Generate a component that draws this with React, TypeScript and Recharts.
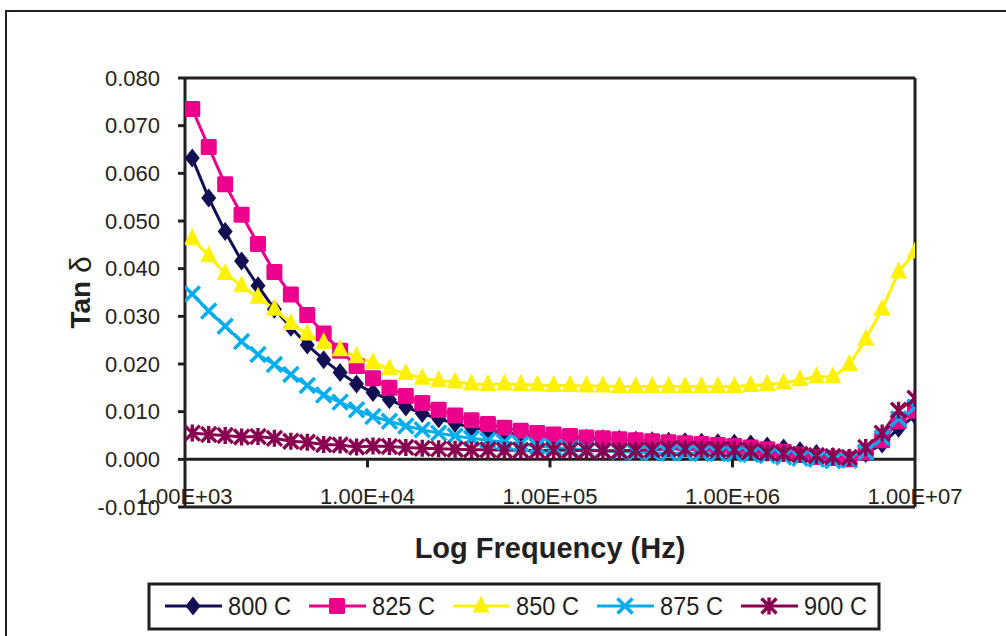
import React from "react";
import { LineChart, Line, XAxis, YAxis, ReferenceLine } from "recharts";

const FONT = "'Liberation Sans', Arial, sans-serif";
const INK = "#231f20";

// measurement frequencies (Hz)
const freqs = [
  1096, 1349, 1660, 2042, 2512, 3090, 3802, 4677, 5754, 7079, 8710,
  10715, 13183, 16218, 19953, 24547, 30200, 37154, 45709, 56234, 69183, 85114,
  104713, 128825, 158489, 194984, 239883, 295121, 363078, 446684, 549541, 676083, 831764,
  1023293, 1258925, 1548817, 1905461, 2344229, 2884032, 3548134, 4365158, 5370318, 6606934, 8128305,
  10000000,
];

const tan800 = [
  0.0632, 0.0548, 0.0478, 0.0416, 0.0364, 0.0315, 0.0277, 0.024, 0.0209, 0.0182, 0.0158,
  0.014, 0.0125, 0.011, 0.0096, 0.0085, 0.0075, 0.0067, 0.0061, 0.0056, 0.0052, 0.005,
  0.0048, 0.0046, 0.0044, 0.0043, 0.0042, 0.004, 0.0039, 0.0038, 0.0037, 0.0036, 0.0035,
  0.0034, 0.0032, 0.0028, 0.0024, 0.0018, 0.0012, 0.0006, 0.0003, 0.0012, 0.0032, 0.0065,
  0.0092,
];
const tan825 = [
  0.0735, 0.0655, 0.0577, 0.0513, 0.0452, 0.0393, 0.0346, 0.0303, 0.0264, 0.0228, 0.0196,
  0.017, 0.015, 0.0133, 0.0118, 0.0104, 0.0092, 0.0082, 0.0074, 0.0066, 0.006, 0.0055,
  0.0052, 0.0049, 0.0046, 0.0044, 0.0042, 0.004, 0.0038, 0.0036, 0.0034, 0.0032, 0.003,
  0.0028, 0.0025, 0.0021, 0.0016, 0.001, 0.0005, 0.0003, 0.0, 0.0015, 0.004, 0.008,
  0.0102,
];
const tan850 = [
  0.0463, 0.0427, 0.039, 0.0364, 0.034, 0.0315, 0.0285, 0.0263, 0.0245, 0.023, 0.0215,
  0.0203, 0.019, 0.018, 0.017, 0.0165, 0.0162, 0.0158, 0.0157, 0.0158, 0.0157, 0.0156,
  0.0155, 0.0155, 0.0154, 0.0154, 0.0153, 0.0153, 0.0153, 0.0153, 0.0153, 0.0153, 0.0153,
  0.0153, 0.0155, 0.0157, 0.016, 0.0167, 0.0173, 0.0173, 0.0199, 0.0252, 0.0315, 0.0393,
  0.0435,
];
const tan875 = [
  0.0347, 0.0311, 0.0279, 0.0247, 0.022, 0.0199, 0.0178, 0.0155, 0.0135, 0.012, 0.0104,
  0.009, 0.008, 0.007, 0.0062, 0.0055, 0.0049, 0.0044, 0.004, 0.0036, 0.0032, 0.0028,
  0.0025, 0.0022, 0.002, 0.0018, 0.0016, 0.0015, 0.0014, 0.0013, 0.0013, 0.0012, 0.0012,
  0.0011, 0.001, 0.0008, 0.0005, 0.0002, 0.0, -0.0003, -0.0002, 0.0015, 0.0045, 0.0085,
  0.011,
];
const tan900 = [
  0.0055, 0.0052, 0.005, 0.0047, 0.0048, 0.0044, 0.0038, 0.0036, 0.0031, 0.003, 0.0026,
  0.0028, 0.0027, 0.0025, 0.0023, 0.0022, 0.0021, 0.002, 0.002, 0.0019, 0.0019, 0.0018,
  0.0019, 0.0019, 0.0018, 0.0018, 0.0018, 0.0019, 0.002, 0.0022, 0.0022, 0.0021, 0.002,
  0.002, 0.0018, 0.0014, 0.0012, 0.001, 0.0008, 0.0006, 0.0004, 0.0025, 0.0055, 0.0103,
  0.0128,
];

const seriesNames = ["800 C", "825 C", "850 C", "875 C", "900 C"];
const seriesKeys = ["t800", "t825", "t850", "t875", "t900"];
const seriesColors = ["#120f55", "#ec008c", "#fff200", "#00aeef", "#8a0051"];
const seriesShapes = ["diamond", "square", "triangle", "x", "star"];

const xTicks = [1000, 10000, 100000, 1000000, 10000000];
const xTickLabels = ["1.00E+03", "1.00E+04", "1.00E+05", "1.00E+06", "1.00E+07"];
const yTicks = [-0.01, 0, 0.01, 0.02, 0.03, 0.04, 0.05, 0.06, 0.07, 0.08];

const data = freqs.map((f, i) => ({
  f,
  t800: tan800[i],
  t825: tan825[i],
  t850: tan850[i],
  t875: tan875[i],
  t900: tan900[i],
}));

function Marker({ shape, cx, cy, color }: { shape: string; cx: number; cy: number; color: string }) {
  if (cx == null || cy == null) return null;
  switch (shape) {
    case "diamond":
      return <polygon points={`${cx},${cy - 9.5} ${cx + 7.5},${cy} ${cx},${cy + 9.5} ${cx - 7.5},${cy}`} fill={color} />;
    case "square":
      return <rect x={cx - 8} y={cy - 8} width={16} height={16} rx={1.5} fill={color} />;
    case "triangle":
      return <polygon points={`${cx},${cy - 10.5} ${cx + 8.5},${cy + 6.5} ${cx - 8.5},${cy + 6.5}`} fill={color} />;
    case "x":
      return (
        <path
          d={`M${cx - 7.5},${cy - 7.5}L${cx + 7.5},${cy + 7.5}M${cx - 7.5},${cy + 7.5}L${cx + 7.5},${cy - 7.5}`}
          stroke={color}
          strokeWidth={3.5}
          fill="none"
        />
      );
    default:
      return (
        <path
          d={`M${cx - 7.5},${cy - 7.5}L${cx + 7.5},${cy + 7.5}M${cx - 7.5},${cy + 7.5}L${cx + 7.5},${cy - 7.5}M${cx},${cy - 8.5}L${cx},${cy + 8.5}`}
          stroke={color}
          strokeWidth={3.4}
          fill="none"
        />
      );
  }
}

const XTick = (props: any) => {
  const { x, y, payload } = props;
  const label = xTickLabels[xTicks.indexOf(payload.value)];
  return (
    <text x={x} y={y - 3} textAnchor="middle" fontSize={22} fontFamily={FONT} fill={INK}>
      {label}
    </text>
  );
};

const YTitle = (props: any) => {
  const { viewBox } = props;
  const cx = viewBox.x + 80;
  const cy = viewBox.y + viewBox.height / 2;
  return (
    <text
      x={cx}
      y={cy}
      transform={`rotate(-90 ${cx} ${cy})`}
      textAnchor="middle"
      dominantBaseline="central"
      fontSize={28}
      fontFamily={FONT}
      fill={INK}
    >
      <tspan fontWeight="bold">Tan </tspan>
      <tspan fontSize={30}>δ</tspan>
    </text>
  );
};

const XTitle = (props: any) => {
  const { viewBox } = props;
  return (
    <text
      x={viewBox.x + viewBox.width / 2}
      y={viewBox.y + 51}
      textAnchor="middle"
      fontSize={29}
      fontWeight="bold"
      fontFamily={FONT}
      fill={INK}
    >
      Log Frequency (Hz)
    </text>
  );
};

function Legend() {
  return (
    <svg width={1006} height={636} style={{ position: "absolute", left: 0, top: 0, pointerEvents: "none" }}>
      <rect x={149} y={584} width={730} height={45} fill="#fff" stroke={INK} strokeWidth={3} />
      {seriesNames.map((name, i) => {
        const x0 = 165 + i * 144;
        return (
          <g key={name}>
            <line x1={x0} x2={x0 + 57} y1={606} y2={606} stroke={seriesColors[i]} strokeWidth={3} />
            <Marker shape={seriesShapes[i]} cx={x0 + 28} cy={606} color={seriesColors[i]} />
            <text
              x={x0 + 63}
              y={615}
              fontSize={25}
              fontFamily={FONT}
              fill={INK}
              textLength={63}
              lengthAdjust="spacingAndGlyphs"
            >
              {name}
            </text>
          </g>
        );
      })}
    </svg>
  );
}

export default function App() {
  return (
    <div style={{ position: "absolute", left: 0, top: 0, width: 1006, height: 636, overflow: "hidden", background: "#fff" }}>
      <div
        style={{
          position: "absolute",
          left: 5,
          top: 10,
          width: 1020,
          height: 650,
          borderLeft: `2px solid ${INK}`,
          borderTop: `2px solid ${INK}`,
        }}
      />
      <div style={{ position: "absolute", left: 0, top: 0 }}>
        <LineChart width={1006} height={636} data={data} margin={{ top: 78, right: 91, bottom: 0, left: 0 }}>
          <XAxis
            dataKey="f"
            type="number"
            scale="log"
            domain={[1000, 10000000]}
            ticks={xTicks}
            allowDataOverflow
            interval={0}
            height={129}
            axisLine={{ stroke: INK, strokeWidth: 3 }}
            tickLine={false}
            tickSize={0}
            tickMargin={0}
            tick={<XTick />}
            label={<XTitle />}
          />
          <YAxis
            type="number"
            domain={[-0.01, 0.08]}
            ticks={yTicks}
            interval={0}
            width={185}
            allowDataOverflow
            axisLine={{ stroke: INK, strokeWidth: 3 }}
            tickLine={{ stroke: INK, strokeWidth: 3 }}
            tickSize={7}
            tickMargin={18}
            tickFormatter={(v: number) => v.toFixed(3)}
            tick={{ fontSize: 22, fill: INK, fontFamily: FONT }}
            label={<YTitle />}
          />
          <ReferenceLine y={0.08} stroke={INK} strokeWidth={3} />
          <ReferenceLine x={10000000} stroke={INK} strokeWidth={3} />
          <ReferenceLine y={0} stroke={INK} strokeWidth={3} />
          {xTicks.slice(1, 4).map((t) => (
            <ReferenceLine
              key={t}
              segment={[
                { x: t, y: 0 },
                { x: t, y: -0.0017 },
              ]}
              stroke={INK}
              strokeWidth={3}
            />
          ))}
          {seriesKeys.map((k, i) => (
            <Line
              key={k}
              dataKey={k}
              type="linear"
              stroke={seriesColors[i]}
              strokeWidth={3}
              isAnimationActive={false}
              dot={(p: any) => (
                <Marker key={`${k}-${p.index}`} shape={seriesShapes[i]} cx={p.cx} cy={p.cy} color={seriesColors[i]} />
              )}
              activeDot={false}
              legendType="none"
            />
          ))}
        </LineChart>
      </div>
      <Legend />
    </div>
  );
}
